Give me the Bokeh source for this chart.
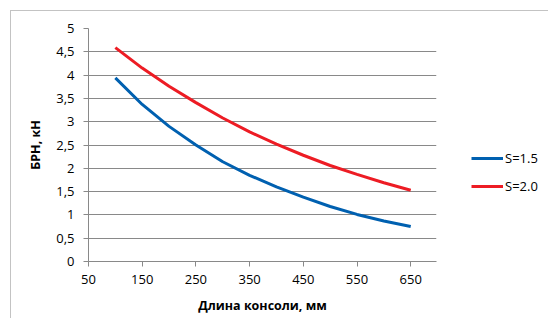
from bokeh.plotting import figure
from bokeh.models import Range1d, FixedTicker, Legend, LegendItem
from bokeh.embed import file_html
from bokeh.resources import INLINE

# Data
length_mm = [100, 150, 200, 250, 300, 350, 400, 450, 500, 550, 600, 650]
s15 = [3.94, 3.37, 2.90, 2.50, 2.14, 1.85, 1.60, 1.38, 1.18, 1.01, 0.87, 0.75]
s20 = [4.59, 4.15, 3.76, 3.41, 3.08, 2.78, 2.52, 2.28, 2.06, 1.87, 1.69, 1.53]
x_ticks = [50, 150, 250, 350, 450, 550, 650]
y_ticks = [0, 0.5, 1, 1.5, 2, 2.5, 3, 3.5, 4, 4.5, 5]
y_tick_labels = ["0", "0,5", "1", "1,5", "2", "2,5", "3", "3,5", "4", "4,5", "5"]
series_names = ["S=1.5", "S=2.0"]

FONT = "Open Sans"
GRID = "#898989"

p = figure(output_backend="svg", toolbar_location=None,
           x_range=Range1d(50, 698), y_range=Range1d(0, 5),
           min_border_left=77, min_border_top=17, min_border_right=104, min_border_bottom=57)
p.frame_width = 348
p.frame_height = 233
p.styles = {"margin-left": "10px", "margin-top": "10px",
            "border-left": "1px solid #c3c3c3", "border-top": "1px solid #c3c3c3"}
p.outline_line_color = None
p.background_fill_color = "white"
p.border_fill_color = "white"

p.xgrid.visible = False
p.ygrid.grid_line_color = GRID
p.ygrid.grid_line_width = 1

p.xaxis.ticker = FixedTicker(ticks=x_ticks)
p.yaxis.ticker = FixedTicker(ticks=y_ticks)
p.yaxis.major_label_overrides = {t: l for t, l in zip(y_ticks, y_tick_labels)}
for ax in (p.xaxis, p.yaxis):
    ax.axis_line_color = GRID
    ax.major_tick_line_color = GRID
    ax.minor_tick_line_color = None
    ax.major_tick_in = 0
    ax.major_tick_out = 5
    ax.major_label_text_font = FONT
    ax.major_label_text_font_size = "13px"
    ax.major_label_text_color = "black"
    ax.axis_label_text_font = FONT
    ax.axis_label_text_font_size = "12.5px"
    ax.axis_label_text_font_style = "bold"
    ax.axis_label_text_color = "black"
p.xaxis.major_label_standoff = 8
p.yaxis.major_label_standoff = 9
p.xaxis.axis_label = "Длина консоли, мм"
p.yaxis.axis_label = "БРН, кН"
p.xaxis.axis_label_standoff = 10
p.yaxis.axis_label_standoff = 9

r1 = p.line(length_mm, s15, line_color="#0060B0", line_width=3)
r2 = p.line(length_mm, s20, line_color="#ED1C24", line_width=3)

legend = Legend(items=[LegendItem(label=series_names[0], renderers=[r1]),
                       LegendItem(label=series_names[1], renderers=[r2])],
                location=(35, 65), orientation="vertical",
                glyph_width=32, glyph_height=20, label_height=20, label_standoff=2,
                spacing=8, padding=0, margin=0,
                border_line_color=None, background_fill_alpha=0,
                label_text_font=FONT, label_text_font_size="13px", label_text_color="black")
p.add_layout(legend, "right")

open("out.html", "w").write(file_html(p, INLINE))
